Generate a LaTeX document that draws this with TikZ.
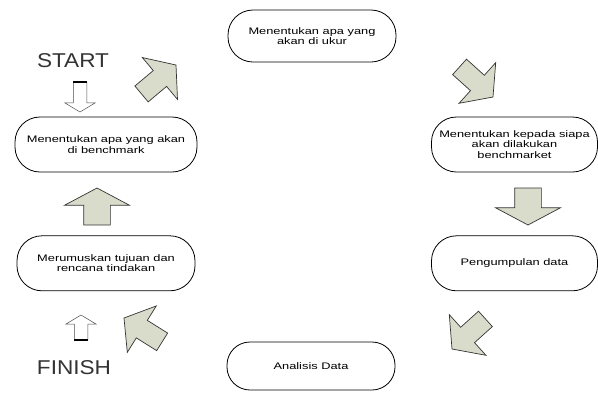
\documentclass[tikz,border=0pt]{standalone}
\usepackage{fontspec}
\setmainfont{Liberation Sans}
\newfontfamily\boxfont[FakeStretch=1.35]{Liberation Sans}
\newfontfamily\endfont[FakeStretch=1.13]{Liberation Sans}
\usetikzlibrary{positioning,shapes.arrows}
\definecolor{arrgray}{RGB}{218,220,203}

\begin{document}
\begin{tikzpicture}[x=1pt,y=-1pt,
  stepbox/.style={draw,line width=0.8pt,rounded corners=25pt,fill=white,
    inner sep=0pt,align=center,minimum height=55pt,
    font=\boxfont\fontsize{9.5}{10.5}\selectfont},
  bigarr/.style={single arrow,draw=black!80,line width=0.7pt,fill=arrgray,
    inner xsep=1pt,inner ysep=10pt,outer sep=0pt,anchor=tip,
    single arrow head extend=17pt,single arrow tip angle=105,minimum height=45pt},
  vertarr/.style={bigarr,inner ysep=13pt,single arrow head extend=19pt,
    single arrow tip angle=124,minimum height=37pt},
  smallarr/.style={single arrow,draw=black!70,line width=0.5pt,fill=white,
    inner xsep=1pt,inner ysep=6.5pt,outer sep=0pt,anchor=tip,
    single arrow head extend=8.5pt,single arrow tip angle=118,minimum height=30pt},
  endtext/.style={font=\endfont\fontsize{20}{20}\selectfont,text=black!80,inner sep=0pt}]
 \useasboundingbox (0,0) rectangle (598,392);
 % the six steps
 \node[stepbox,minimum width=168pt,minimum height=52pt] (UKUR) at (312,36)
  {Menentukan apa yang\\ akan di ukur};
 \node[stepbox,minimum width=182pt] (BENCH) at (106,144.5)
  {Menentukan apa yang akan\\ di benchmark};
 \node[stepbox,minimum width=178pt,below=63pt of BENCH] (RUMUS)
  {Merumuskan tujuan dan\\ rencana tindakan};
 \node[stepbox,minimum width=166pt] (SIAPA) at (514.5,144.5)
  {Menentukan kepada siapa\\ akan dilakukan\\ benchmarket};
 \node[stepbox,minimum width=166pt,below=63pt of SIAPA] (KUMPUL)
  {Pengumpulan data};
 \node[stepbox,minimum width=168pt,minimum height=48pt,rounded corners=23pt] (ANALISIS)
  at (311,366) {Analisis Data};
 % start and finish
 \node[endtext] (START) at (73,61) {START};
 \node[endtext] (FINISH) at (74,368) {FINISH};
 \node[smallarr,rotate=-90] (SA1) at (80,112) {};
 \node[smallarr,rotate=90,minimum height=25pt] (SA2) at (81,315) {};
 \foreach \X in {1,2} {\draw[line width=2.5pt] (SA\X.before tail) -- (SA\X.after tail);}
 % block arrows round the cycle
 \node[bigarr,rotate=40] (BA1) at (176,65) {};
 \node[bigarr,rotate=-42] (BA2) at (493,97) {};
 \node[vertarr,rotate=-90] (BA3) at (528,225) {};
 \node[bigarr,rotate=222] (BA4) at (452,349) {};
 \node[bigarr,rotate=148] (BA5) at (124,318) {};
 \node[vertarr,rotate=90] (BA6) at (97,188) {};
\end{tikzpicture}
\end{document}
